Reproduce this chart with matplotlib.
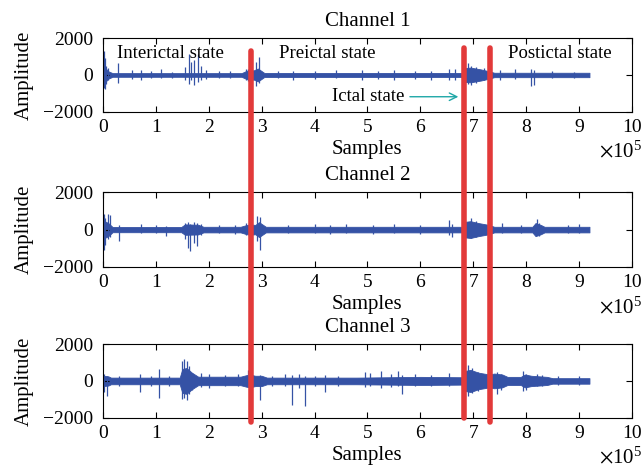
"""Three-channel EEG overview with interictal / preictal / ictal / postictal marks."""
import matplotlib; matplotlib.use("Agg")
import matplotlib.pyplot as plt
from matplotlib.lines import Line2D
from matplotlib.transforms import blended_transform_factory

plt.rcParams["font.family"] = ["Liberation Serif", "DejaVu Serif"]
plt.rcParams["mathtext.fontset"] = "stix"

BLUE = "#3552a5"
RED = "#e23a3a"
TEAL = "#1fa7a7"

# x in units of 1e5 samples, amplitudes in raw units
# dense background trace: envelope half-width at a few breakpoints
ch1_env_x = [0, 0.02, 0.1, 0.18, 2.62, 2.72, 2.78, 2.85, 2.93, 3.05, 6.78, 6.86,
             6.95, 7.15, 7.3, 7.4, 9.2]
ch1_env_h = [650, 450, 200, 100, 100, 230, 260, 250, 350, 110, 110, 380,
             400, 300, 200, 120, 120]
ch1_spk_x = [0.01, 0.03, 0.06, 0.09, 0.28, 0.55, 0.72, 0.9, 1.1, 1.3, 1.55, 1.62,
             1.67, 1.72, 1.8, 1.85, 1.95, 2.2, 2.4, 2.7, 2.75, 2.9, 2.95, 3.3,
             3.6, 4.0, 4.4, 4.9, 5.2, 5.5, 5.9, 6.2, 6.55, 6.65, 6.9, 6.95, 7.05,
             7.2, 7.5, 7.8, 8.1, 8.15, 8.5, 8.9]
ch1_spk_hi = [1300, 900, 500, 400, 650, 250, 280, 200, 330, 180, 450, 1150,
              700, 800, 1150, 500, 250, 200, 220, 350, 300, 700, 1000, 200,
              220, 200, 250, 280, 220, 250, 200, 200, 300, 350, 650, 500, 450,
              400, 250, 300, 350, 250, 200, 180]
ch1_spk_lo = [-700, -750, -500, -300, -450, -200, -300, -150, -150, -150, -250, -500,
              -300, -550, -400, -300, -200, -150, -180, -300, -350, -600, -450, -150,
              -250, -200, -150, -300, -200, -250, -200, -300, -250, -300, -500, -550, -450,
              -300, -250, -200, -600, -550, -150, -180]

ch2_env_x = [0, 0.03, 0.1, 0.18, 1.48, 1.55, 1.8, 1.9, 2.6, 2.72, 2.8, 2.88, 2.95,
             3.08, 6.8, 6.86, 6.95, 7.1, 7.3, 7.4, 8.12, 8.18, 8.28, 8.35, 9.2]
ch2_env_h = [500, 450, 350, 140, 140, 280, 260, 150, 150, 250, 270, 250, 400,
             150, 150, 420, 450, 350, 250, 150, 150, 350, 250, 150, 150]
ch2_spk_x = [0.01, 0.04, 0.1, 0.13, 0.3, 0.72, 1.0, 1.2, 1.55, 1.6, 1.64, 1.72,
             1.78, 1.85, 2.2, 2.5, 2.7, 2.76, 2.92, 2.97, 3.5, 4.0, 4.3, 4.6,
             5.1, 5.5, 6.0, 6.55, 6.6, 6.85, 6.95, 7.05, 7.55, 7.9, 8.2, 8.25,
             8.8, 9.0]
ch2_spk_hi = [850, 600, 850, 800, 250, 300, 250, 200, 350, 400, 300, 400,
              350, 300, 250, 250, 330, 300, 750, 650, 250, 300, 250, 300,
              250, 300, 250, 500, 300, 400, 600, 450, 350, 250, 550, 350,
              250, 300]
ch2_spk_lo = [-1100, -800, -500, -400, -600, -200, -200, -350, -500, -1000, -1150, -700,
              -900, -300, -200, -250, -300, -350, -600, -1100, -200, -200, -250, -200,
              -250, -200, -250, -300, -400, -600, -450, -400, -200, -200, -300, -320,
              -200, -200]

ch3_env_x = [0, 0.1, 0.15, 1.45, 1.5, 1.58, 1.68, 1.8, 2.6, 2.72, 2.8, 2.88, 3.0,
             3.1, 4.8, 6.0, 6.8, 6.86, 6.95, 7.1, 7.3, 7.4, 7.55, 7.65, 7.9, 7.98,
             8.1, 8.4, 8.5, 9.2]
ch3_env_h = [280, 250, 180, 180, 650, 700, 450, 230, 230, 320, 330, 280, 280,
             180, 180, 220, 200, 550, 600, 450, 350, 400, 350, 220, 220, 350,
             280, 220, 150, 150]
ch3_spk_x = [0.02, 0.07, 0.3, 0.7, 0.9, 1.05, 1.25, 1.5, 1.53, 1.58, 1.62, 1.68,
             1.85, 2.0, 2.3, 2.55, 2.75, 2.8, 2.97, 3.2, 3.45, 3.58, 3.7, 3.82,
             4.0, 4.2, 4.45, 4.95, 5.05, 5.25, 5.45, 5.58, 5.65, 5.9, 6.2, 6.55,
             6.85, 6.9, 6.97, 7.1, 7.45, 7.52, 7.95, 8.0, 8.2, 8.3, 8.6, 9.0]
ch3_spk_hi = [350, 250, 250, 400, 250, 650, 250, 1100, 1200, 1100, 800, 450,
              450, 350, 300, 350, 600, 400, 300, 250, 350, 300, 350, 250,
              250, 300, 250, 500, 450, 550, 400, 550, 300, 350, 300, 450,
              500, 850, 700, 500, 500, 350, 550, 400, 400, 300, 250, 250]
ch3_spk_lo = [-600, -800, -300, -600, -250, -950, -250, -1000, -900, -1050, -700, -500,
              -350, -400, -300, -250, -300, -400, -1050, -250, -300, -1300, -400, -1350,
              -300, -600, -300, -350, -300, -400, -350, -300, -700, -300, -250, -300,
              -900, -800, -650, -550, -700, -500, -550, -500, -250, -300, -200, -200]

channels = [
    ("Channel 1", ch1_env_x, ch1_env_h, ch1_spk_x, ch1_spk_hi, ch1_spk_lo),
    ("Channel 2", ch2_env_x, ch2_env_h, ch2_spk_x, ch2_spk_hi, ch2_spk_lo),
    ("Channel 3", ch3_env_x, ch3_env_h, ch3_spk_x, ch3_spk_hi, ch3_spk_lo),
]

state_marks = [2.79, 6.82, 7.31]           # x of the red boundaries (1e5 samples)
mark_top = [0.891, 0.898, 0.898]            # figure fraction
mark_bot = [0.103, 0.111, 0.103]

fig = plt.figure(figsize=(6.44, 4.70), dpi=100)
rects = [(0.160, 0.762, 0.821, 0.157),
         (0.160, 0.432, 0.821, 0.159),
         (0.160, 0.111, 0.821, 0.157)]
axes = []
for rect, (title, ex, eh, sx, shi, slo) in zip(rects, channels):
    ax = fig.add_axes(rect)
    ax.fill_between(ex, [-h for h in eh], eh, color=BLUE, lw=0.6, edgecolor=BLUE)
    ax.vlines(sx, slo, shi, color=BLUE, lw=0.9)
    ax.set_xlim(0, 10); ax.set_ylim(-2000, 2000)
    ax.set_xticks(range(0, 11)); ax.set_yticks([-2000, 0, 2000])
    ax.tick_params(direction="in", top=True, right=True, labelsize=14,
                   length=4, width=0.8)
    ax.tick_params(axis="x", pad=5)
    ax.tick_params(axis="y", pad=7)
    for s in ax.spines.values():
        s.set_linewidth(0.8)
    ax.set_title(title, fontsize=15, pad=9)
    ax.set_xlabel("Samples", fontsize=15, labelpad=3)
    ax.set_ylabel("Amplitude", fontsize=15, labelpad=7)
    ax.text(1.02, -0.54, r"$\times\mathregular{10^{5}}$", transform=ax.transAxes,
            fontsize=15, ha="right", va="center")
    axes.append(ax)

ax1 = axes[0]
ax1.text(0.26, 1150, "Interictal state", fontsize=13.5, va="center")
ax1.text(3.33, 1150, "Preictal state", fontsize=13.5, va="center")
ax1.text(7.65, 1150, "Postictal state", fontsize=13.5, va="center")
ax1.annotate("Ictal state", xy=(6.72, -1180), xytext=(4.33, -1180),
             fontsize=13.5, va="center",
             arrowprops=dict(arrowstyle="->", color=TEAL, lw=1.0,
                             shrinkA=2, shrinkB=0))

tr = blended_transform_factory(ax1.transData, fig.transFigure)
for x, t, b in zip(state_marks, mark_top, mark_bot):
    fig.add_artist(Line2D([x, x], [b, t], transform=tr, color=RED, lw=4,
                          solid_capstyle="round", clip_on=False, zorder=5))

fig.savefig("out.png", dpi=100)
